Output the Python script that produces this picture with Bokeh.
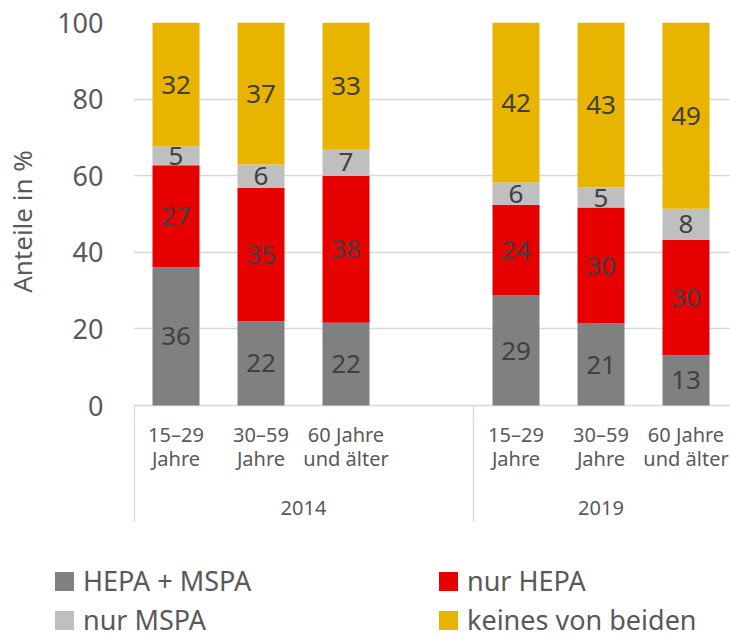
from bokeh.plotting import figure
from bokeh.layouts import column
from bokeh.models import ColumnDataSource, FixedTicker, Range1d, Div
from bokeh.core.properties import value
from bokeh.embed import file_html
from bokeh.resources import INLINE

# ---------------- data ----------------
years = ["2014", "2019"]
age_line1 = ["15–29", "30–59", "60 Jahre"]
age_line2 = ["Jahre", "Jahre", "und älter"]
series_keys = ["hepa_mspa", "nur_hepa", "nur_mspa", "keines"]
series_names = ["HEPA + MSPA", "nur HEPA", "nur MSPA", "keines von beiden"]
series_colors = ["#808080", "#e60000", "#bfbfbf", "#e8b400"]

# order: 2014 (15–29, 30–59, 60+), 2019 (15–29, 30–59, 60+)
hepa_mspa = [36.1, 22.0, 21.6, 28.7, 21.4, 13.1]
nur_hepa = [26.6, 34.8, 38.3, 23.7, 30.3, 30.1]
nur_mspa = [4.9, 6.1, 7.1, 5.8, 5.2, 8.2]
keines = [32.4, 37.1, 33.0, 41.8, 43.1, 48.6]

y_ticks = [0, 20, 40, 60, 80, 100]

# ---------------- layout ----------------
FONT = "Noto Sans"
TXT = "#595959"
W, H = 730, 636
LEFT = 133          # frame left (px)
TOP = 22            # frame top (px)
ZERO = 405          # pixel row of the 0 line
TOP_H = 420         # height of the bar figure
LEG_H = 76          # legend strip height (px)
SLOT = 85.0         # px per category slot
PX_PER_UNIT = 3.83  # px per percent
cat_h = H - TOP_H - LEG_H

slots_per_year = len(age_line1) + 1  # one empty slot after each year group
xs = []
for yi in range(len(years)):
    for ai in range(len(age_line1)):
        xs.append(yi * slots_per_year + ai + 0.5)

series = {"hepa_mspa": hepa_mspa, "nur_hepa": nur_hepa, "nur_mspa": nur_mspa, "keines": keines}
src = ColumnDataSource(dict(x=xs, **series))
x_range = Range1d(0, (W - LEFT) / SLOT)
sep_x = [0.01, float(slots_per_year)]

# ---------- bar figure ----------
p = figure(width=W, height=TOP_H, output_backend="svg", toolbar_location=None,
           x_range=x_range, y_range=Range1d((ZERO - TOP_H) / PX_PER_UNIT, 100),
           min_border_left=LEFT, min_border_right=0, min_border_top=TOP,
           min_border_bottom=0, title=None, x_axis_location=None)
p.outline_line_color = None

renderers = p.vbar_stack(series_keys, x="x", width=0.553, source=src,
                         fill_color=series_colors, line_color=None)

lx, ly, lt = [], [], []
for i, x in enumerate(xs):
    base = 0.0
    for k in series_keys:
        v = series[k][i]
        lx.append(x)
        ly.append(base + v / 2)
        lt.append(f"{v:.0f}")
        base += v
p.text(x=lx, y=ly, text=lt, text_align="center", text_baseline="middle",
       text_font=value(FONT), text_font_size="26px", text_color="#404040")
p.segment(x0=sep_x, y0=[0, 0], x1=sep_x, y1=[-30.5, -30.5],
          line_color="#d9d9d9", line_width=1.5)

p.xgrid.visible = False
p.ygrid.ticker = FixedTicker(ticks=y_ticks)
p.ygrid.grid_line_color = "#d9d9d9"
p.ygrid.grid_line_width = 1.5
ax = p.yaxis[0]
ax.ticker = FixedTicker(ticks=y_ticks)
ax.axis_line_color = None
ax.major_tick_line_color = None
ax.minor_tick_line_color = None
ax.major_tick_out = 0
ax.major_tick_in = 0
ax.major_label_standoff = 30
ax.major_label_text_font = FONT
ax.major_label_text_font_size = "27px"
ax.major_label_text_color = TXT
ax.axis_label = "Anteile in %"
ax.axis_label_text_font = FONT
ax.axis_label_text_font_size = "26px"
ax.axis_label_text_font_style = "normal"
ax.axis_label_text_color = TXT
ax.axis_label_standoff = 14

# ---------- category figure ----------
q = figure(width=W, height=cat_h, output_backend="svg", toolbar_location=None,
           x_range=x_range,
           y_range=Range1d((ZERO - (TOP_H + cat_h)) / PX_PER_UNIT, (ZERO - TOP_H) / PX_PER_UNIT),
           min_border_left=LEFT, min_border_right=0, min_border_top=0, min_border_bottom=0,
           title=None, x_axis_location=None, y_axis_location=None)
q.outline_line_color = None
q.grid.visible = False

q.text(x=xs, y=[-7.6] * len(xs), text=age_line1 * len(years), text_align="center",
       text_baseline="middle", text_font=value(FONT), text_font_size="20px", text_color=TXT)
q.text(x=xs, y=[-13.9] * len(xs), text=age_line2 * len(years), text_align="center",
       text_baseline="middle", text_font=value(FONT), text_font_size="20px", text_color=TXT)
gx = [slots_per_year / 2, slots_per_year + len(age_line1) / 2]
q.text(x=gx, y=[-26.8, -26.8], text=years, text_align="center", text_baseline="middle",
       text_font=value(FONT), text_font_size="20px", text_color=TXT)
q.segment(x0=sep_x, y0=[0, 0], x1=sep_x, y1=[-30.5, -30.5],
          line_color="#d9d9d9", line_width=1.5)

# ---------- legend strip (two columns, two rows) ----------
col_left = [55, 439]
row_mid = [21, 60]
parts = []
for n in range(len(series_names)):
    cx = col_left[n % 2]
    cy = row_mid[n // 2]
    parts.append(
        f'<div style="position:absolute;left:{cx}px;top:{cy - 9}px;width:19px;height:19px;'
        f'background:{series_colors[n]};"></div>'
        f'<div style="position:absolute;left:{cx + 28}px;top:{cy - 14}px;height:28px;'
        f'line-height:28px;white-space:nowrap;">{series_names[n]}</div>')
legend_html = (f'<div style="position:relative;width:{W}px;height:{LEG_H}px;'
               f'font-family:\'{FONT}\';font-size:27px;color:{TXT};">' + "".join(parts) + "</div>")
legend = Div(text=legend_html, width=W, height=LEG_H, margin=0)

layout = column(p, q, legend, spacing=0)
open("out.html", "w").write(file_html(layout, INLINE))
